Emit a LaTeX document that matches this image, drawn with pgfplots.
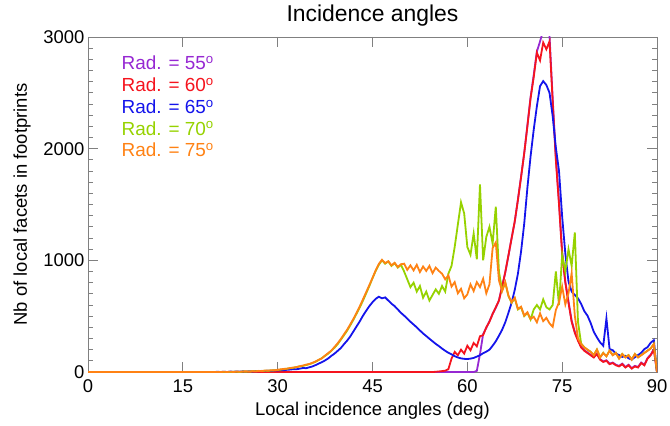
\documentclass[border=0pt]{standalone}
\usepackage{fontspec}
\setmainfont{Liberation Sans}
\usepackage{pgfplots}
\usepackage{pgfplotstable}
\pgfplotsset{compat=1.18}

\definecolor{c55}{RGB}{150,40,210}
\definecolor{c60}{RGB}{245,20,30}
\definecolor{c65}{RGB}{20,20,235}
\definecolor{c70}{RGB}{150,210,0}
\definecolor{c75}{RGB}{255,130,20}

% histogram of local incidence angles, one column per radar angle
\pgfplotstableread{
x    a55  a60  a65  a70  a75
0    0    0    0    0    0
19.5 0    0    0    0    0
20   0    0    0    0    0
20.5 0    0    2    0    0
21   0    0    0    0    0
21.5 0    0    3    0    2
22   0    0    0    0    0
22.5 0    0    4    0    3
23   0    0    2    2    0
23.5 0    0    5    3    4
24   0    0    3    0    2
24.5 0    0    6    4    5
25   0    0    4    3    6
25.5 0    0    7    5    4
26   0    0    5    6    8
26.5 0    0    8    7    6
27   0    0    6    9    10
27.5 0    0    10   8    9
28   0    0    9    12   13
28.5 0    0    12   11   12
29   0    0    11   14   16
29.5 0    0    14   15   15
30   0    0    13   18   20
30.5 0    0    17   22   24
31   0    0    16   26   28
31.5 0    0    20   30   30
32   0    0    22   34   36
32.5 0    0    26   38   40
33   0    0    25   45   44
33.5 0    0    30   50   52
34   0    0    36   55   58
34.5 0    0    34   62   66
35   0    0    42   70   72
35.5 0    0    50   80   82
36   0    0    62   92   95
36.5 0    0    76   108  110
37   0    0    88   125  122
37.5 0    0    104  145  148
38   0    0    122  165  170
38.5 0    0    145  190  192
39   0    0    165  218  225
39.5 0    0    190  250  258
40   0    0    215  290  296
40.5 0    0    250  330  338
41   0    0    282  372  380
41.5 0    0    320  420  428
42   0    0    365  470  478
42.5 0    0    410  525  532
43   0    0    455  580  590
43.5 0    0    505  640  652
44   0    0    548  705  715
44.5 0    0    590  770  778
45   0    0    625  840  842
45.5 0    0    655  905  910
46   0    0    674  960  968
46.5 0    0    660  1000 1005
47   0    0    668  970  975
47.5 0    0    640  990  992
48   0    0    612  950  955
48.5 0    0    590  975  978
49   0    0    560  935  940
49.5 0    0    530  960  965
50   0    0    505  900  970
50.5 0    0    478  830  915
51   0    0    450  760  955
51.5 0    0    425  800  910
52   0    0    400  720  960
52.5 0    0    372  770  895
53   0    0    345  665  945
53.5 0    0    322  720  905
54   0    0    298  640  950
54.5 0    0    275  690  885
55   0    2    252  740  935
55.5 0    5    232  700  905
56   0    8    210  770  880
56.5 0    12   190  720  830
57   0    25   172  880  865
57.5 0    120  158  950  765
58   0    180  142  1120 805
58.5 0    150  130  1320 705
59   0    200  122  1520 745
59.5 0    165  118  1420 660
60   0    235  116  1120 695
60.5 0    195  120  1050 785
61   0    260  126  1240 725
61.5 10   230  138  1010 805
62   160  320  150  1680 760
62.5 340  330  168  1000 835
63   395  400  182  1210 705
63.5 455  450  200  1300 785
64   520  520  235  1150 1110
64.5 575  580  275  1480 1160
65   640  640  325  900  820
65.5 770  760  378  730  725
66   890  895  445  800  805
66.5 1040 1045 530  680  685
67   1200 1195 620  620  625
67.5 1345 1350 735  660  665
68   1545 1540 880  560  565
68.5 1750 1745 1080 580  585
69   1960 1960 1330 500  505
69.5 2210 2200 1650 530  535
70   2460 2450 1930 470  475
70.5 2660 2640 2170 560  495
71   2870 2860 2380 600  445
71.5 2960 2790 2560 560  525
72   3060 2950 2605 650  455
72.5 3070 2890 2570 580  485
73   3010 2960 2500 560  435
73.5 2450 2420 2290 600  405
74   1920 1900 2010 900  555
74.5 1520 1500 1800 600  625
75   1080 1050 1390 1050 765
75.5 810  800  1060 900  605
76   630  620  810  1100 705
76.5 460  450  720  950  885
77   360  350  690  1250 505
77.5 290  280  660  450  300
78   225  220  610  255  250
78.5 195  190  545  222  220
79   175  170  505  200  200
79.5 155  150  440  182  180
80   135  130  360  152  150
80.5 165  160  310  202  200
81   115  110  265  132  130
81.5 95   90   235  172  170
82   105  100  480  142  140
82.5 75   70   205  192  190
83   85   80   195  152  150
83.5 65   60   165  172  170
84   55   50   152  122  120
84.5 75   70   135  162  160
85   45   40   145  132  130
85.5 65   60   122  152  150
86   35   30   112  112  110
86.5 55   50   132  162  160
87   45   40   152  132  130
87.5 85   80   172  152  150
88   65   60   205  172  170
88.5 125  120  222  192  190
89   155  150  262  212  210
89.5 205  200  285  252  250
90   0    0    0    0    0
}\angles

\begin{document}
\begin{tikzpicture}
\begin{axis}[
    scale only axis,
    width=569bp, height=335bp,
    xmin=0, xmax=90, ymin=0, ymax=3000,
    xtick={0,15,...,90},
    ytick={0,1000,2000,3000},
    minor y tick num=9,
    tick align=inside,
    tick pos=both,
    xticklabel pos=left, yticklabel pos=left,
    major tick length=10bp, minor tick length=5bp,
    axis line style={gray, line width=0.9bp},
    every tick/.style={gray, line width=0.8bp},
    font=\fontsize{18.5}{21}\selectfont,
    /pgf/number format/assume math mode=true,
    /pgf/number format/1000 sep={},
    xticklabel style={yshift=-4bp},
    title={Incidence angles},
    title style={font=\fontsize{23}{26}\selectfont, yshift=1bp},
    xlabel={Local incidence angles (deg)},
    xlabel shift=3bp,
    ylabel={Nb of local facets in footprints},
    ylabel shift=6bp,
    legend image code/.code={},
    legend cell align=left,
    legend style={draw=none, fill=none, at={(0.05,0.955)}, anchor=north west,
        font=\fontsize{19}{21}\selectfont, row sep=2.5bp},
    every axis plot/.append style={line width=1.8bp, no markers},
]
\addplot[c55] table[x=x, y=a55] {\angles};
\addlegendentry{\textcolor{c55}{Rad. = 55\textsuperscript{o}}}
\addplot[c60] table[x=x, y=a60] {\angles};
\addlegendentry{\textcolor{c60}{Rad. = 60\textsuperscript{o}}}
\addplot[c65] table[x=x, y=a65] {\angles};
\addlegendentry{\textcolor{c65}{Rad. = 65\textsuperscript{o}}}
\addplot[c70] table[x=x, y=a70] {\angles};
\addlegendentry{\textcolor{c70}{Rad. = 70\textsuperscript{o}}}
\addplot[c75] table[x=x, y=a75] {\angles};
\addlegendentry{\textcolor{c75}{Rad. = 75\textsuperscript{o}}}
\coordinate (sw) at (rel axis cs:0,0);
\coordinate (ne) at (rel axis cs:1,1);
\end{axis}
\pgfresetboundingbox
\path[use as bounding box] ([shift={(-88bp,-53bp)}]sw) rectangle ([shift={(13bp,37bp)}]ne);
\end{tikzpicture}
\end{document}
